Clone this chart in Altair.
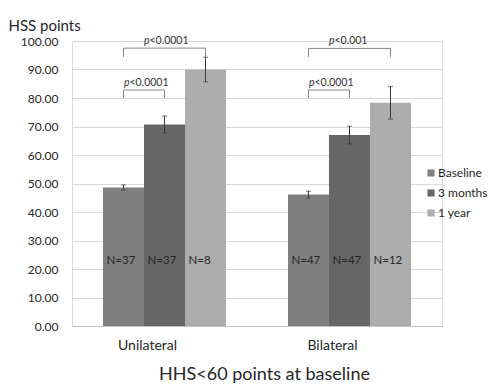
import altair as alt
import pandas as pd

groups = ["Unilateral", "Bilateral"]
series = ["Baseline", "3 months", "1 year"]
colors = ["#7f7f7f", "#666666", "#adadad"]

means_unilateral = [48.6, 70.7, 90.0]
means_bilateral = [46.1, 67.0, 78.3]
err_unilateral = [0.9, 3.0, 4.3]
err_bilateral = [1.2, 3.1, 5.7]
n_unilateral = [37, 37, 8]
n_bilateral = [47, 47, 12]

bracket_group = ["Unilateral", "Unilateral", "Bilateral", "Bilateral"]
bracket_from = ["Baseline", "Baseline", "Baseline", "Baseline"]
bracket_to = ["3 months", "1 year", "3 months", "1 year"]
bracket_top = [82.8, 97.5, 82.8, 97.4]
bracket_bottom = [80.0, 94.4, 80.0, 94.4]
bracket_p = ["<0.0001", "<0.0001", "<0.0001", "<0.001"]

rows = []
for g, means, errs, ns in [("Unilateral", means_unilateral, err_unilateral, n_unilateral),
                           ("Bilateral", means_bilateral, err_bilateral, n_bilateral)]:
    for s, m, e, n in zip(series, means, errs, ns):
        rows.append({"group": g, "series": s, "mean": m, "lo": m - e, "hi": m + e, "nlab": f"N={n}"})
bars_df = pd.DataFrame(rows)

line_rows = []
text_rows = []
for i, (g, f, t, top, bot, p) in enumerate(zip(bracket_group, bracket_from, bracket_to,
                                                bracket_top, bracket_bottom, bracket_p)):
    pts = [(f, bot), (f, top), (t, top), (t, bot)]
    for k, (s, yv) in enumerate(pts):
        line_rows.append({"id": i, "group": g, "series": s, "y": yv, "ord": k})
    span = series.index(t) - series.index(f)
    text_rows.append({"group": g, "series": "3 months", "y": top, "p": "p", "rest": p, "span": span})
lines_df = pd.DataFrame(line_rows)
text_df = pd.DataFrame(text_rows)

FONT = "Lato"

x_scale = alt.Scale(domain=groups, paddingInner=0.335, paddingOuter=0.1676)
x_axis = alt.Axis(title="HHS<60 points at baseline", labelAngle=0, ticks=False,
                  labelFontSize=14, labelPadding=12, labelOffset=-17,
                  labelColor="#262626", titleFontSize=18, titleFontWeight="normal",
                  titleColor="#262626", titleX=192, titleY=53,
                  titleBaseline="alphabetic", domainColor="#c4c4c4", grid=False)
y_scale = alt.Scale(domain=[0, 100], nice=False)
y_axis = alt.Axis(title="HSS points", format=".2f", values=list(range(0, 101, 10)),
                  tickCount=11, ticks=False, labelPadding=14, labelFontSize=12,
                  labelColor="#262626", gridColor="#d9d9d9", domainColor="#d9d9d9",
                  titleAngle=0, titleAlign="left", titleX=-64, titleY=-11,
                  titleBaseline="alphabetic", titleFontSize=15,
                  titleFontWeight="normal", titleColor="#262626")


def X():
    return alt.X("group:N", sort=groups, scale=x_scale, axis=x_axis)


def XO():
    return alt.XOffset("series:N", sort=series,
                       scale=alt.Scale(domain=series, paddingInner=0, paddingOuter=0))


def Y(field):
    return alt.Y(field, scale=y_scale, axis=y_axis)


bars = alt.Chart(bars_df).mark_bar().encode(
    x=X(), xOffset=XO(), y=Y("mean:Q"),
    color=alt.Color("series:N", sort=series,
                    scale=alt.Scale(domain=series, range=colors),
                    legend=alt.Legend(title=None, orient="none", legendX=353, legendY=126,
                                      symbolType="square", symbolSize=50, symbolStrokeWidth=0,
                                      labelFontSize=12, labelColor="#262626", rowPadding=8,
                                      padding=0, labelOffset=1)),
)

err_rule = alt.Chart(bars_df).mark_rule(color="#3a3a3a", strokeWidth=1).encode(
    x=X(), xOffset=XO(), y=Y("lo:Q"), y2="hi:Q")
err_lo = alt.Chart(bars_df).mark_tick(color="#3a3a3a", size=5, thickness=1).encode(
    x=X(), xOffset=XO(), y=Y("lo:Q"))
err_hi = alt.Chart(bars_df).mark_tick(color="#3a3a3a", size=5, thickness=1).encode(
    x=X(), xOffset=XO(), y=Y("hi:Q"))

nlabels = alt.Chart(bars_df).mark_text(align="left", dx=-17, fontSize=11.5, font=FONT,
                                       color="#262626").encode(
    x=X(), xOffset=XO(), y=alt.datum(22.8), text="nlab:N")

brackets = alt.Chart(lines_df).mark_line(color="#858585", strokeWidth=1).encode(
    x=X(), xOffset=XO(), y=Y("y:Q"), order="ord:Q", detail="id:N")


def ptext(span, shift):
    base = alt.Chart(text_df).transform_filter(alt.datum.span == span)
    enc = dict(x=X(), xOffset=XO(), y=Y("y:Q"))
    p = base.mark_text(align="right", baseline="alphabetic", dx=shift, dy=-4, fontSize=10.5,
                       font=FONT, fontStyle="italic", color="#333333").encode(text="p:N", **enc)
    r = base.mark_text(align="left", baseline="alphabetic", dx=shift, dy=-4, fontSize=10.5,
                       font=FONT, color="#333333").encode(text="rest:N", **enc)
    return p + r


chart = alt.layer(bars, err_rule, err_lo, err_hi, nlabels, brackets,
                  ptext(1, -35), ptext(2, -15)).properties(
    width=370, height=285,
    autosize=alt.AutoSizeParams(type="none"),
    padding={"left": 64, "top": 33, "right": 50, "bottom": 58},
).configure_view(stroke=None).configure(font=FONT)

chart.save("out.html", embed_options={"renderer": "svg", "actions": False})
